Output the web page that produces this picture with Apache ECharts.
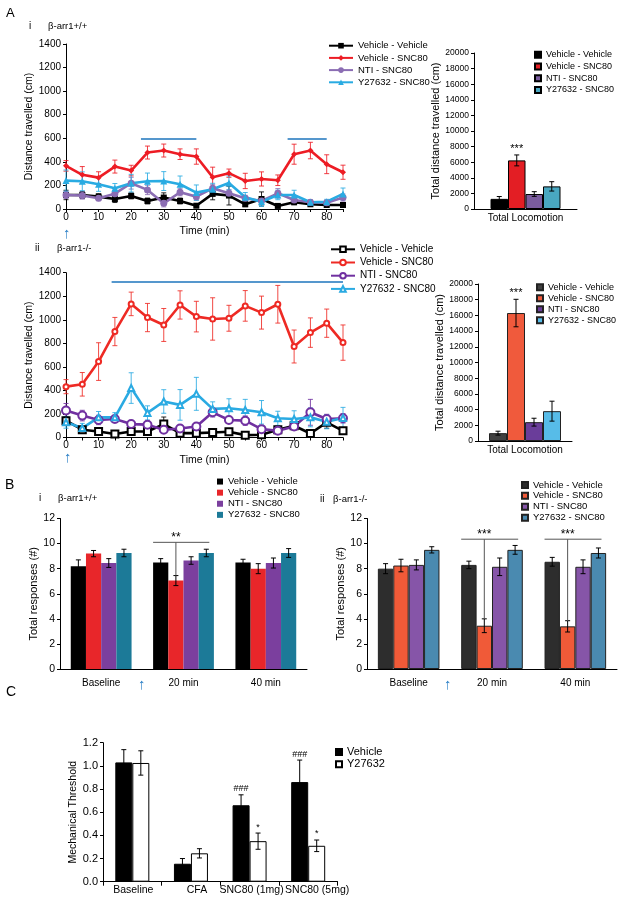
<!DOCTYPE html>
<html>
<head>
<meta charset="utf-8">
<script src="https://cdn.jsdelivr.net/npm/echarts@6/dist/echarts.min.js"></script>
<style>
html,body{margin:0;padding:0;background:#fff;}
#fig{width:623px;height:901px;}
</style>
</head>
<body>
<div id="fig"></div>
<script>
var FONT = "'Liberation Sans', Arial, sans-serif";

// ---- data ----
var groupNames = ['Vehicle - Vehicle', 'Vehicle - SNC80', 'NTI - SNC80', 'Y27632 - SNC80'];
var times = [0, 5, 10, 15, 20, 25, 30, 35, 40, 45, 50, 55, 60, 65, 70, 75, 80, 85];

// A i  (beta-arr1 +/+), distance per 5 min bin
var aiVehVeh    = [119, 119, 105, 85, 111, 68, 97, 68, 28, 128, 114, 40, 85, 26, 57, 40, 34, 34];
var aiVehVehErr = [40, 30, 25, 30, 25, 25, 40, 25, 15, 50, 80, 20, 60, 15, 20, 15, 15, 15];
var aiVehSnc    = [366, 290, 266, 360, 326, 479, 496, 465, 445, 270, 304, 238, 255, 244, 465, 496, 380, 312];
var aiVehSncErr = [45, 70, 50, 55, 45, 55, 55, 45, 65, 85, 35, 65, 60, 45, 85, 70, 80, 60];
var aiNti       = [119, 114, 91, 130, 219, 162, 48, 142, 105, 176, 133, 91, 68, 133, 77, 57, 54, 97];
var aiNtiErr    = [30, 30, 20, 30, 50, 40, 30, 30, 30, 30, 30, 25, 20, 40, 30, 20, 20, 30];
var aiY         = [241, 235, 210, 176, 219, 235, 237, 210, 139, 168, 221, 100, 62, 119, 119, 57, 62, 128];
var aiYErr      = [90, 80, 60, 40, 75, 70, 80, 70, 65, 50, 60, 40, 40, 40, 40, 20, 20, 50];
var aiSigFrom = [23, 68], aiSigTo = [40, 80], aiSigY = [600, 600];

// A ii (beta-arr1 -/-)
var aiiVehVeh    = [143, 66, 51, 29, 51, 51, 114, 37, 37, 43, 49, 20, 23, 66, 100, 34, 129, 57];
var aiiVehVehErr = [30, 20, 15, 10, 15, 15, 60, 10, 10, 10, 15, 10, 10, 20, 30, 15, 50, 20];
var aiiVehSnc    = [432, 452, 645, 900, 1135, 1019, 956, 1126, 1027, 1007, 1013, 1118, 1061, 1132, 773, 891, 971, 806];
var aiiVehSncErr = [60, 100, 160, 120, 100, 120, 140, 120, 130, 180, 110, 130, 140, 160, 140, 125, 120, 150];
var aiiNti       = [229, 186, 149, 157, 114, 109, 66, 77, 94, 214, 149, 143, 71, 57, 94, 214, 157, 163];
var aiiNtiErr    = [60, 45, 40, 30, 25, 25, 20, 20, 20, 40, 30, 40, 25, 20, 30, 110, 40, 40];
var aiiY         = [129, 80, 171, 171, 420, 209, 306, 277, 371, 243, 249, 234, 214, 163, 157, 171, 134, 166];
var aiiYErr      = [50, 40, 50, 40, 130, 60, 100, 130, 140, 60, 80, 90, 100, 60, 70, 80, 60, 90];
var aiiSigFrom = [14], aiiSigTo = [85], aiiSigY = [1320];

// total locomotion
var totalCats = ['Total Locomotion'];
var totalAi     = [1300, 6230, 1920, 2900];
var totalAiErr  = [300, 700, 300, 600];
var totalAiNote = ['', '***', '', ''];
var totalAii     = [1000, 16300, 2400, 3800];
var totalAiiErr  = [250, 1750, 500, 1270];
var totalAiiNote = ['', '***', '', ''];

// B responses
var bCats = ['Baseline', '20 min', '40 min'];
var biVehVeh = [8.2, 8.5, 8.5],   biVehVehErr = [0.5, 0.3, 0.25];
var biVehSnc = [9.2, 7.05, 8.0],  biVehSncErr = [0.25, 0.4, 0.4];
var biNti    = [8.45, 8.65, 8.45], biNtiErr   = [0.35, 0.3, 0.4];
var biY      = [9.25, 9.25, 9.25], biYErr     = [0.3, 0.3, 0.35];
var biBracketCat = [1], biBracketY = [10.1], biBracketText = ['**'];

var biiVehVeh = [8.0, 8.3, 8.55],  biiVehVehErr = [0.4, 0.3, 0.35];
var biiVehSnc = [8.25, 3.45, 3.4], biiVehSncErr = [0.5, 0.55, 0.45];
var biiNti    = [8.3, 8.15, 8.15], biiNtiErr    = [0.4, 0.7, 0.55];
var biiY      = [9.5, 9.5, 9.25],  biiYErr      = [0.25, 0.35, 0.4];
var biiBracketCat = [1, 2], biiBracketY = [10.35, 10.35], biiBracketText = ['***', '***'];

// C mechanical threshold
var cCats = ['Baseline', 'CFA', 'SNC80 (1mg)', 'SNC80 (5mg)'];
var cNames = ['Vehicle', 'Y27632'];
var cVeh = [1.03, 0.155, 0.66, 0.86],  cVehErr = [0.11, 0.045, 0.09, 0.19], cVehNote = ['', '', '###', '###'];
var cY   = [1.025, 0.245, 0.35, 0.31], cYErr   = [0.105, 0.04, 0.07, 0.05], cYNote   = ['', '', '*', '*'];

// ---- helpers ----
function tag(name, key) { return name + '#' + key; }
function untag(name) { return name.split('#')[0]; }
function plain(v) { return String(v); }

function lineSeries(name, vals, color, symbol, size, ax) {
  return {
    type: 'line', name: name, xAxisIndex: ax, yAxisIndex: ax, z: 3,
    data: times.map(function (t, k) { return [t, vals[k]]; }),
    symbol: symbol, symbolSize: size,
    lineStyle: { color: color, width: 2.6 },
    itemStyle: { color: color, borderWidth: 1.3 }
  };
}

function lineErr(vals, errs, color, ax) {
  return {
    type: 'custom', xAxisIndex: ax, yAxisIndex: ax, z: 2, silent: true,
    data: times.map(function (t, k) { return [t, vals[k], errs[k]]; }),
    renderItem: function (params, api) {
      var t = api.value(0), v = api.value(1), e = api.value(2);
      var x = api.coord([t, v])[0];
      var yT = api.coord([t, v + e])[1];
      var yB = api.coord([t, Math.max(0, v - e)])[1];
      var st = { stroke: color, lineWidth: 1, opacity: 0.85 };
      return { type: 'group', children: [
        { type: 'line', shape: { x1: x, y1: yT, x2: x, y2: yB }, style: st },
        { type: 'line', shape: { x1: x - 2.5, y1: yT, x2: x + 2.5, y2: yT }, style: st },
        { type: 'line', shape: { x1: x - 2.5, y1: yB, x2: x + 2.5, y2: yB }, style: st }
      ] };
    }
  };
}

function sigLine(from, to, ys) {
  return {
    symbol: 'none', silent: true, label: { show: false },
    lineStyle: { color: '#1c75bc', width: 1.5, type: 'solid' },
    data: from.map(function (f, k) { return [{ coord: [f, ys[k]] }, { coord: [to[k], ys[k]] }]; })
  };
}

function barSeries(name, vals, color, ax, bw, border) {
  return {
    type: 'bar', name: name, xAxisIndex: ax, yAxisIndex: ax, z: 2,
    data: vals, barWidth: bw, barGap: '0%',
    itemStyle: { color: color, borderColor: border ? border : color, borderWidth: border ? 1 : 0 }
  };
}

function barErr(valsList, errsList, notesList, ax, bw, noteFont) {
  var n = valsList.length, rows = [];
  valsList.forEach(function (vals, i) {
    vals.forEach(function (v, j) {
      rows.push([j, v, errsList[i][j], i, notesList ? notesList[i][j] : '']);
    });
  });
  return {
    type: 'custom', xAxisIndex: ax, yAxisIndex: ax, z: 5, silent: true,
    data: rows.map(function (r) { return [r[0], r[1]]; }),
    renderItem: function (params, api) {
      var r = rows[params.dataIndex];
      var p = api.coord([r[0], r[1]]);
      var x = p[0] + (r[3] - (n - 1) / 2) * bw;
      var yT = api.coord([r[0], r[1] + r[2]])[1];
      var yB = api.coord([r[0], r[1] - r[2]])[1];
      var st = { stroke: '#000', lineWidth: 1 };
      var kids = [
        { type: 'line', shape: { x1: x, y1: yT, x2: x, y2: yB }, style: st },
        { type: 'line', shape: { x1: x - 2.5, y1: yT, x2: x + 2.5, y2: yT }, style: st },
        { type: 'line', shape: { x1: x - 2.5, y1: yB, x2: x + 2.5, y2: yB }, style: st }
      ];
      if (r[4]) {
        kids.push({ type: 'text', style: { text: r[4], x: x, y: yT - 6, align: 'center', verticalAlign: 'middle',
          fill: '#000', fontSize: noteFont, fontFamily: FONT } });
      }
      return { type: 'group', children: kids };
    }
  };
}

function brackets(cats, ys, texts, redVals, redErrs, ax, bw) {
  return {
    type: 'custom', xAxisIndex: ax, yAxisIndex: ax, z: 6, silent: true,
    data: cats.map(function (c, k) { return [c, ys[k]]; }),
    renderItem: function (params, api) {
      var k = params.dataIndex, c = cats[k];
      var p = api.coord([c, ys[k]]);
      var xr = p[0] - 0.5 * bw;
      var yRed = api.coord([c, redVals[c] + redErrs[c]])[1];
      var st = { stroke: '#555', lineWidth: 1 };
      return { type: 'group', children: [
        { type: 'line', shape: { x1: p[0] - 2 * bw, y1: p[1], x2: p[0] + 1.7 * bw, y2: p[1] }, style: st },
        { type: 'line', shape: { x1: xr, y1: p[1], x2: xr, y2: yRed }, style: st },
        { type: 'text', style: { text: texts[k], x: xr, y: p[1] - 5, align: 'center', verticalAlign: 'middle',
          fill: '#000', fontSize: 12, fontFamily: FONT } }
      ] };
    }
  };
}

function valueY(gi, max, interval, fontSize, name, nameGap, nameSize, fmt) {
  return {
    type: 'value', gridIndex: gi, min: 0, max: max, interval: interval,
    axisLine: { show: true, lineStyle: { color: '#000', width: 1 } },
    axisTick: { show: true, length: 3, lineStyle: { color: '#000' } },
    splitLine: { show: false },
    axisLabel: { color: '#000', fontSize: fontSize, margin: 5, fontFamily: FONT, formatter: fmt || plain },
    name: name, nameLocation: 'middle', nameGap: nameGap,
    nameTextStyle: { color: '#000', fontSize: nameSize, fontFamily: FONT }
  };
}

function timeX(gi) {
  return {
    type: 'value', gridIndex: gi, min: 0, max: 85, interval: 5,
    axisLine: { show: true, onZero: false, lineStyle: { color: '#000' } },
    axisTick: { show: true, length: 3, lineStyle: { color: '#000' } },
    splitLine: { show: false },
    axisLabel: { color: '#000', fontSize: 10, margin: 3, fontFamily: FONT,
      formatter: function (v) { return v % 10 === 0 ? String(v) : ''; } },
    name: 'Time (min)', nameLocation: 'middle', nameGap: 17,
    nameTextStyle: { color: '#000', fontSize: 10.5, fontFamily: FONT }
  };
}

function catX(gi, cats, fontSize, margin, ticks, fmt, rich) {
  return {
    type: 'category', gridIndex: gi, data: cats,
    axisLine: { show: true, lineStyle: { color: '#000' } },
    axisTick: { show: ticks, length: 4, lineStyle: { color: '#000' } },
    axisLabel: { color: '#000', fontSize: fontSize, margin: margin, interval: 0, fontFamily: FONT,
      formatter: fmt, rich: rich }
  };
}

function legendBox(names, key, left, top, icon, iw, ih, fontSize, rowH) {
  return {
    data: names.map(function (n) { return tag(n, key); }),
    orient: 'vertical', left: left, top: top, padding: 0, itemGap: 0,
    itemWidth: iw, itemHeight: ih, icon: icon, selectedMode: false,
    formatter: untag,
    textStyle: { color: '#000', fontSize: fontSize, lineHeight: rowH, fontFamily: FONT }
  };
}

function label(text, left, top, size) {
  return { text: text, left: left, top: top, padding: 0,
    textStyle: { color: '#000', fontSize: size, fontWeight: 'normal', fontFamily: FONT } };
}

function arrow(x, y) {
  return { type: 'text', left: x - 4, top: y,
    style: { text: '\u2191', fill: '#2a7fc6', fontSize: 15, fontFamily: FONT } };
}

// ---- colours ----
var lineColAi  = ['#000000', '#ed1c24', '#8b6db3', '#29abe2'];
var lineColAii = ['#000000', '#ee2a24', '#7030a0', '#2aaae2'];
var barColAi   = ['#000000', '#e31e24', '#7a5c9e', '#49a7c0'];
var barColAii  = ['#404040', '#f05a3c', '#6a3d9a', '#57bce8'];
var barColBi   = ['#000000', '#e8262a', '#7b3f9e', '#1c7a98'];
var barColBii  = ['#2d2d2d', '#f05a38', '#8655a8', '#4a8ab0'];

var symAi  = ['rect', 'diamond', 'circle', 'triangle'];
var sizeAi = [6, 6, 7, 7];
var symAii = ['emptyRect', 'emptyCircle', 'emptyCircle', 'emptyTriangle'];
var sizeAii = [7, 5, 8, 6];

var aiVals = [aiVehVeh, aiVehSnc, aiNti, aiY], aiErrs = [aiVehVehErr, aiVehSncErr, aiNtiErr, aiYErr];
var aiiVals = [aiiVehVeh, aiiVehSnc, aiiNti, aiiY], aiiErrs = [aiiVehVehErr, aiiVehSncErr, aiiNtiErr, aiiYErr];

var series = [];
// A i line
aiVals.forEach(function (v, i) { series.push(lineErr(v, aiErrs[i], lineColAi[i], 0)); });
aiVals.forEach(function (v, i) {
  var s = lineSeries(tag(groupNames[i], 'ai'), v, lineColAi[i], symAi[i], sizeAi[i], 0);
  if (i === 1) s.markLine = sigLine(aiSigFrom, aiSigTo, aiSigY);
  series.push(s);
});
// A ii line
aiiVals.forEach(function (v, i) { series.push(lineErr(v, aiiErrs[i], lineColAii[i], 2)); });
aiiVals.forEach(function (v, i) {
  var s = lineSeries(tag(groupNames[i], 'aii'), v, lineColAii[i], symAii[i], sizeAii[i], 2);
  if (i === 1) s.markLine = sigLine(aiiSigFrom, aiiSigTo, aiiSigY);
  series.push(s);
});
// A i totals
groupNames.forEach(function (n, i) {
  series.push(barSeries(tag(n, 'ti'), [totalAi[i]], barColAi[i], 1, 17.5, '#000'));
});
series.push(barErr(totalAi.map(function (v) { return [v]; }), totalAiErr.map(function (e) { return [e]; }),
  totalAiNote.map(function (t) { return [t]; }), 1, 17.5, 11));
// A ii totals
groupNames.forEach(function (n, i) {
  series.push(barSeries(tag(n, 'tii'), [totalAii[i]], barColAii[i], 3, 18, '#222'));
});
series.push(barErr(totalAii.map(function (v) { return [v]; }), totalAiiErr.map(function (e) { return [e]; }),
  totalAiiNote.map(function (t) { return [t]; }), 3, 18, 11));
// B i
var biVals = [biVehVeh, biVehSnc, biNti, biY], biErrs = [biVehVehErr, biVehSncErr, biNtiErr, biYErr];
groupNames.forEach(function (n, i) { series.push(barSeries(tag(n, 'bi'), biVals[i], barColBi[i], 4, 15.2)); });
series.push(barErr(biVals, biErrs, null, 4, 15.2, 11));
series.push(brackets(biBracketCat, biBracketY, biBracketText, biVehSnc, biVehSncErr, 4, 15.2));
// B ii
var biiVals = [biiVehVeh, biiVehSnc, biiNti, biiY], biiErrs = [biiVehVehErr, biiVehSncErr, biiNtiErr, biiYErr];
groupNames.forEach(function (n, i) { series.push(barSeries(tag(n, 'bii'), biiVals[i], barColBii[i], 5, 15.4, '#222')); });
series.push(barErr(biiVals, biiErrs, null, 5, 15.4, 11));
series.push(brackets(biiBracketCat, biiBracketY, biiBracketText, biiVehSnc, biiVehSncErr, 5, 15.4));
// C
series.push(barSeries(tag(cNames[0], 'c'), cVeh, '#000000', 6, 17, '#000'));
series.push(barSeries(tag(cNames[1], 'c'), cY, '#ffffff', 6, 17, '#000'));
series.push(barErr([cVeh, cY], [cVehErr, cYErr], [cVehNote, cYNote], 6, 17, 9));

var fig = echarts.init(document.getElementById('fig'));
fig.setOption({
  animation: false,
  backgroundColor: '#ffffff',
  textStyle: { fontFamily: FONT },
  title: [
    label('A', 6, 7, 13),
    label('i', 29, 21, 10), label('\u03b2-arr1+/+', 48, 21, 9.5),
    label('ii', 35, 243, 10), label('\u03b2-arr1-/-', 57, 243, 9.5),
    label('B', 5, 478, 14),
    label('i', 39, 493, 10), label('\u03b2-arr1+/+', 58, 493, 9.5),
    label('ii', 320, 494, 10), label('\u03b2-arr1-/-', 333, 494, 9.5),
    label('C', 6, 685, 14)
  ],
  legend: [
    legendBox(groupNames, 'ai', 328, 39.6, null, 24, 7, 9.5, 12.2),
    legendBox(groupNames, 'ti', 534, 49, 'rect', 6, 6, 9, 11.7),
    legendBox(groupNames, 'aii', 330, 242.7, null, 24, 7, 10, 13.2),
    legendBox(groupNames, 'tii', 536, 281.8, 'rect', 6, 6, 9, 11),
    legendBox(groupNames, 'bi', 217, 476, 'rect', 6, 6, 9.5, 11.1),
    legendBox(groupNames, 'bii', 521, 479.5, 'rect', 6, 6, 9.5, 10.9),
    legendBox(cNames, 'c', 335, 745.8, 'rect', 6, 6, 11, 12.3)
  ],
  grid: [
    { left: 66, top: 44, width: 277, height: 165 },
    { left: 474, top: 53, width: 103, height: 156 },
    { left: 66, top: 272.7, width: 277, height: 164.8 },
    { left: 478, top: 284, width: 94, height: 157 },
    { left: 60, top: 518.5, width: 247, height: 150.5 },
    { left: 367, top: 518.5, width: 250, height: 150.5 },
    { left: 103, top: 742.7, width: 234.5, height: 139 }
  ],
  xAxis: [
    timeX(0),
    catX(1, totalCats, 10, 4, false),
    timeX(2),
    catX(3, totalCats, 10, 4, false),
    catX(4, bCats, 10, 9, false),
    catX(5, bCats, 10, 9, false),
    catX(6, cCats, 10.5, 3, true,
      function (v, i) { return '{s' + i + '|' + v + '}'; },
      { s0: { padding: [0, 0, 0, 2] }, s1: { padding: [0, 0, 0, 12] },
        s2: { padding: [0, 0, 0, 4] }, s3: { padding: [0, 0, 0, 18] } })
  ],
  yAxis: [
    valueY(0, 1400, 200, 10, 'Distance travelled (cm)', 28, 10.5),
    valueY(1, 20000, 2000, 8.5, 'Total distance travelled (cm)', 29, 11),
    valueY(2, 1400, 200, 10, 'Distance travelled (cm)', 28, 10.5),
    valueY(3, 20000, 2000, 8.5, 'Total distance travelled (cm)', 33, 11),
    valueY(4, 12, 2, 10.5, 'Total responses (#)', 15, 11),
    valueY(5, 12, 2, 10.5, 'Total responses (#)', 18.5, 11),
    valueY(6, 1.2, 0.2, 11, 'Mechanical Threshold', 19, 10.5, function (v) { return v.toFixed(1); })
  ],
  series: series,
  graphic: [arrow(67, 226), arrow(68, 450), arrow(142, 677), arrow(448, 677)]
});
</script>
</body>
</html>
